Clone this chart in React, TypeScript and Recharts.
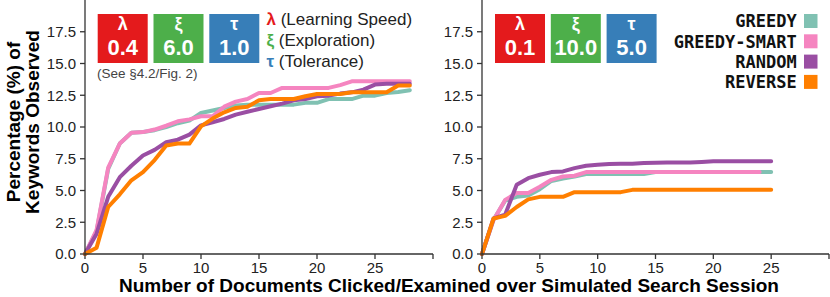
import { LineChart, Line, XAxis, YAxis } from 'recharts'

// left panel: 0..28 documents
const leftDocs = [0, 1, 2, 3, 4, 5, 6, 7, 8, 9, 10, 11, 12, 13, 14, 15, 16, 17, 18, 19, 20, 21, 22, 23, 24, 25, 26, 27, 28]
const leftGreedy = [0, 1.8, 6.7, 8.7, 9.55, 9.6, 9.75, 10.0, 10.3, 10.5, 11.1, 11.3, 11.5, 11.7, 11.76, 11.76, 11.76, 11.76, 11.76, 11.9, 11.9, 12.2, 12.2, 12.2, 12.47, 12.47, 12.68, 12.75, 12.9]
const leftSmart = [0, 1.9, 6.8, 8.7, 9.55, 9.6, 9.8, 10.1, 10.45, 10.6, 10.85, 10.85, 11.6, 12.0, 12.2, 12.68, 12.68, 13.08, 13.08, 13.08, 13.08, 13.08, 13.3, 13.6, 13.6, 13.6, 13.6, 13.6, 13.6]
const leftRandom = [0, 1.6, 4.5, 6.05, 6.95, 7.76, 8.2, 8.8, 9.0, 9.4, 10.13, 10.37, 10.63, 10.97, 11.2, 11.42, 11.63, 11.84, 12.1, 12.2, 12.42, 12.47, 12.63, 12.73, 12.94, 13.34, 13.4, 13.4, 13.4]
const leftReverse = [0, 0.5, 3.7, 4.7, 5.8, 6.45, 7.4, 8.55, 8.7, 8.7, 10.05, 10.66, 11.16, 11.5, 11.6, 12.1, 12.2, 12.2, 12.2, 12.42, 12.6, 12.6, 12.6, 12.73, 12.73, 12.73, 12.73, 13.26, 13.26]

// right panel: 0..25 documents (smart stops at 24)
const rightDocs = [0, 1, 2, 3, 4, 5, 6, 7, 8, 9, 10, 11, 12, 13, 14, 15, 16, 17, 18, 19, 20, 21, 22, 23, 24, 25]
const rightGreedy = [0, 2.7, 4.2, 4.5, 4.6, 5.1, 5.75, 5.95, 6.1, 6.3, 6.3, 6.3, 6.3, 6.3, 6.3, 6.45, 6.45, 6.45, 6.45, 6.45, 6.45, 6.45, 6.45, 6.45, 6.45, 6.45]
const rightSmart = [0, 2.68, 4.26, 4.8, 4.8, 5.3, 5.84, 6.1, 6.16, 6.45, 6.45, 6.45, 6.45, 6.45, 6.45, 6.45, 6.45, 6.45, 6.45, 6.45, 6.45, 6.45, 6.45, 6.45, 6.45, null]
const rightRandom = [0, 2.8, 3.1, 5.45, 5.97, 6.24, 6.45, 6.5, 6.76, 6.95, 7.03, 7.08, 7.1, 7.1, 7.16, 7.18, 7.2, 7.2, 7.2, 7.25, 7.3, 7.3, 7.3, 7.3, 7.3, 7.3]
const rightReverse = [0, 2.8, 3.0, 3.7, 4.3, 4.5, 4.5, 4.5, 4.87, 4.87, 4.87, 4.87, 4.87, 5.05, 5.05, 5.05, 5.05, 5.05, 5.05, 5.05, 5.05, 5.05, 5.05, 5.05, 5.05, 5.05]

const xTicks = [0, 5, 10, 15, 20, 25, 30]
const yTicks = [0, 2.5, 5, 7.5, 10, 12.5, 15, 17.5]

const seriesNames = ['GREEDY', 'GREEDY-SMART', 'RANDOM', 'REVERSE']
const seriesKeys = ['greedy', 'smart', 'random', 'reverse']
const seriesColors = ['#80c1b2', '#f585c0', '#9a4ea3', '#ff7f00']

const leftParams = ['0.4', '6.0', '1.0']
const rightParams = ['0.1', '10.0', '5.0']
const paramSymbols = ['λ', 'ξ', 'τ']
const paramNames = ['(Learning Speed)', '(Exploration)', '(Tolerance)']
const paramColors = ['#e41a1c', '#4daf4a', '#377eb8']

const leftData = leftDocs.map((x, i) => ({
  x,
  greedy: leftGreedy[i],
  smart: leftSmart[i],
  random: leftRandom[i],
  reverse: leftReverse[i],
}))

const rightData = rightDocs.map((x, i) => ({
  x,
  greedy: rightGreedy[i],
  smart: rightSmart[i],
  random: rightRandom[i],
  reverse: rightReverse[i],
}))

const font = '"Liberation Sans", Arial, sans-serif'
const axisColor = '#333'
const tickStyle = { fill: '#222', fontSize: 15, fontFamily: font }

function Panel({ data, width, yAxisWidth, rightMargin }: { data: any[]; width: number; yAxisWidth: number; rightMargin: number }) {
  return (
    <LineChart width={width} height={297} data={data} margin={{ top: 0, right: rightMargin, bottom: 0, left: 0 }}>
      <XAxis
        dataKey="x"
        type="number"
        domain={[0, 30]}
        ticks={xTicks}
        tickFormatter={(v: number) => (v === 30 ? '' : String(v))}
        height={43}
        tickSize={5}
        tickMargin={3}
        tick={tickStyle}
        stroke={axisColor}
        strokeWidth={1.3}
        interval={0}
      />
      <YAxis
        type="number"
        domain={[0, 20]}
        ticks={yTicks}
        tickFormatter={(v: number) => v.toFixed(1)}
        width={yAxisWidth}
        tickSize={5}
        tickMargin={4}
        tick={tickStyle}
        stroke={axisColor}
        strokeWidth={1.3}
        interval={0}
      />
      {seriesKeys.map((k, i) => (
        <Line
          key={k}
          dataKey={k}
          type="linear"
          stroke={seriesColors[i]}
          strokeWidth={4}
          strokeLinecap="round"
          strokeLinejoin="round"
          dot={false}
          activeDot={false}
          connectNulls={false}
          isAnimationActive={false}
        />
      ))}
    </LineChart>
  )
}

function ParamBoxes({ x0, values }: { x0: number; values: string[] }) {
  return (
    <g>
      {values.map((v, i) => {
        const x = x0 + i * 55.8
        return (
          <g key={i}>
            <rect x={x} y={14} width={50} height={49} fill={paramColors[i]} />
            <text x={x + 25} y={30} textAnchor="middle" fill="#fff" fontSize={18} fontWeight="bold" fontFamily={font}>
              {paramSymbols[i]}
            </text>
            <text x={x + 25} y={55} textAnchor="middle" fill="#fff" fontSize={22} fontWeight="bold" fontFamily={font}>
              {v}
            </text>
          </g>
        )
      })}
    </g>
  )
}

export default function App() {
  return (
    <div style={{ position: 'fixed', left: 0, top: 0, width: 830, height: 297, background: '#fff' }}>
      <div style={{ position: 'absolute', left: 0, top: 0 }}>
        <Panel data={leftData} width={440} yAxisWidth={85} rightMargin={7} />
      </div>
      <div style={{ position: 'absolute', left: 440, top: 0 }}>
        <Panel data={rightData} width={390} yAxisWidth={42} rightMargin={1} />
      </div>
      <svg width={830} height={297} style={{ position: 'absolute', left: 0, top: 0, pointerEvents: 'none' }}>
        <ParamBoxes x0={97.7} values={leftParams} />
        <ParamBoxes x0={495} values={rightParams} />

        {paramNames.map((n, i) => (
          <text key={n} x={266.5} y={25 + i * 20.9} fontSize={17} fontFamily={font} fill="#222">
            <tspan fill={paramColors[i]} fontWeight="bold">{paramSymbols[i]}</tspan> {n}
          </text>
        ))}
        <text x={97} y={77.5} fontSize={13.5} fontFamily={font} fill="#444">
          (See §4.2/Fig. 2)
        </text>

        {seriesNames.map((n, i) => (
          <g key={n}>
            <text
              x={796.7}
              y={27.3 + i * 20.3}
              textAnchor="end"
              fontSize={17}
              fontWeight="bold"
              fontFamily='"DejaVu Sans Mono", monospace'
              fill="#111"
            >
              {n}
            </text>
            <rect x={804} y={14 + i * 20.3} width={13.5} height={14} fill={seriesColors[i]} />
          </g>
        ))}

        <text x={449} y={292} textAnchor="middle" fontSize={19} fontWeight="bold" fontFamily={font} fill="#000">
          Number of Documents Clicked/Examined over Simulated Search Session
        </text>
        <text transform="translate(20,122) rotate(-90)" textAnchor="middle" fontSize={19} fontWeight="bold" fontFamily={font} fill="#000">
          Percentage (%) of
        </text>
        <text transform="translate(39,122) rotate(-90)" textAnchor="middle" fontSize={19} fontWeight="bold" fontFamily={font} fill="#000">
          Keywords Observed
        </text>
      </svg>
    </div>
  )
}
